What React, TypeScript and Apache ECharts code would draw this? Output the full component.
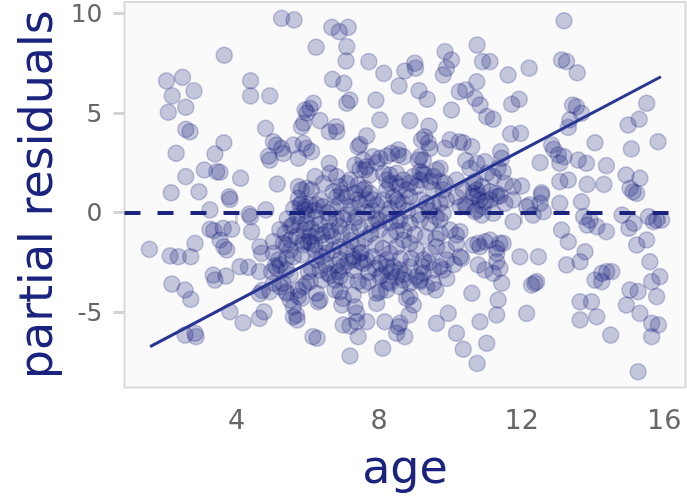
import React, { useEffect, useRef } from "react";
import * as echarts from "echarts";

// age, partial residual
const pointsLeft: [number, number][] = [
  [2.03, 6.61], [2.48, 6.79], [2.8, 6.11], [2.19, 5.86], [2.57, 5.29], [2.08, 5.04], [3.65, 7.9],
  [4.39, 6.62], [4.39, 5.86], [4.93, 5.86], [2.57, 4.18], [2.69, 4.06], [4.81, 4.23], [2.3, 2.98],
  [3.64, 3.51], [3.39, 2.95], [3.09, 2.14], [3.44, 2.06], [3.53, 2.03], [4.11, 1.73], [2.57, 1.81],
  [2.16, 1.0], [2.94, 1.05], [3.79, 0.8], [3.81, 0.67], [3.25, 0.14], [4.82, 0.14], [4.35, -0.07],
  [1.55, -1.84], [2.13, -2.17], [2.36, -2.21], [2.71, -2.21], [2.83, -1.54], [3.25, -0.83], [3.36, -0.9],
  [3.62, -0.78], [3.86, -0.83], [3.53, -1.37], [3.64, -1.71], [3.72, -1.87], [4.42, -0.95], [4.65, -1.71],
  [4.7, -2.04], [5.03, -1.45], [4.33, -2.74], [4.64, -2.96], [5.08, -2.67], [4.09, -2.71], [2.18, -3.58],
  [2.55, -3.88], [2.71, -4.35], [3.34, -3.13], [3.39, -3.38], [3.7, -3.18], [4.64, -4.07], [4.93, -3.96],
  [3.81, -4.97], [4.18, -5.52], [4.64, -5.3], [4.77, -4.97], [2.55, -6.14], [2.83, -6.05], [2.86, -6.22],
  [4.72, -3.9], [5.03, -3.54],
];

const pointsMidUpper: [number, number][] = [
  [5.26, 9.75], [5.61, 9.67], [6.23, 8.3], [6.67, 9.3], [6.88, 9.08], [7.13, 9.3], [7.09, 8.33],
  [7.07, 7.61], [7.71, 7.58], [8.13, 6.99], [8.56, 6.36], [8.72, 7.11], [9.0, 7.5], [9.02, 7.25],
  [6.69, 6.69], [7.01, 6.49], [7.09, 5.49], [7.18, 5.65], [7.91, 5.65], [8.02, 4.65], [8.86, 4.62],
  [9.12, 6.12], [9.35, 5.69], [9.85, 8.08], [10.03, 7.66], [9.89, 7.25], [9.8, 6.91], [10.75, 8.41],
  [10.9, 7.58], [10.25, 6.07], [10.43, 6.16], [10.74, 6.57], [10.69, 5.74], [10.83, 5.4], [10.03, 5.15],
  [11.02, 4.82], [5.92, 5.15], [5.97, 5.0], [6.15, 5.49], [6.06, 5.24], [5.82, 4.31], [5.88, 4.5],
  [6.34, 4.62], [6.6, 4.06], [6.79, 4.31], [6.81, 4.06], [7.65, 3.85], [7.41, 3.31], [7.46, 3.42],
  [5.03, 3.56], [5.12, 3.39], [5.26, 3.23], [4.89, 2.83], [4.93, 2.64], [5.31, 2.97], [5.59, 3.39],
  [5.87, 3.48], [5.96, 3.23], [6.1, 3.06], [5.73, 2.73], [9.28, 3.81], [9.4, 4.35], [9.38, 3.51],
  [9.19, 3.65], [9.42, 3.23], [9.85, 3.23], [9.99, 3.65], [10.25, 3.56], [10.36, 3.51], [10.6, 3.31],
  [10.43, 2.61], [10.74, 2.48], [10.97, 2.56], [10.55, 2.23],
  [6.6, 2.48], [6.62, 1.98], [6.81, 1.81], [7.32, 2.39], [7.55, 2.64], [7.83, 2.81], [7.93, 2.51],
  [8.54, 2.9], [8.68, 2.81], [9.1, 2.64], [9.71, 2.23], [9.52, 1.81], [9.71, 1.56], [9.15, 2.06],
  [9.28, 1.89], [8.12, 1.98], [8.3, 1.89], [8.49, 1.98], [7.6, 2.14], [7.74, 1.89], [7.18, 1.64],
  [7.41, 1.39], [7.6, 1.22], [10.69, 1.56], [10.9, 1.31], [10.64, 0.97], [10.17, 1.64], [6.71, 1.05],
  [6.95, 0.97], [7.46, 2.17], [7.65, 2.31], [8.02, 2.73], [8.21, 2.84], [8.35, 2.98], [8.54, 3.15],
  [6.9, 1.31], [7.09, 1.47], [5.14, 1.44], [5.73, 1.31], [5.82, 1.14], [5.96, 1.22], [6.1, 1.14],
  [6.2, 1.81], [6.43, 1.47],
];

const pointsMidZero: [number, number][] = [
  [5.73, 0.72], [5.78, 0.39], [5.92, 0.3], [6.06, 0.39], [6.34, 0.64], [6.24, 0.39], [6.43, 0.3],
  [5.82, 0.47], [5.92, 0.14], [6.81, 0.8], [6.9, 0.47], [7.09, 0.8], [7.32, 0.97], [7.37, 0.64],
  [7.46, 0.47], [7.55, 1.14], [7.74, 0.97], [7.65, 0.64], [7.83, 0.64], [7.93, 0.39], [8.21, 1.64],
  [8.49, 1.47], [8.21, 1.14], [8.12, 0.64], [8.4, 0.8], [8.54, 0.47], [9.61, 2.14], [9.85, 1.47],
  [9.43, 1.56], [9.52, 1.14], [9.24, 1.98], [9.15, 1.64], [8.96, 1.81], [9.05, 1.31], [8.86, 1.47],
  [8.68, 1.64], [8.58, 1.31], [8.77, 1.14], [8.3, 1.47], [9.15, 2.81], [9.24, 2.64], [8.86, 0.8],
  [9.15, 0.64], [9.33, 0.47], [8.68, 0.47], [8.49, 0.64], [9.8, 1.14], [9.89, 0.64], [9.71, 0.47],
  [9.52, 0.39], [10.36, 1.14], [10.17, 0.8], [10.41, 0.39], [10.27, 0.3], [10.64, 1.47], [10.74, 1.14],
  [10.64, 0.8], [10.83, 0.64], [10.46, 0.3], [10.78, 0.89], [10.97, 0.55], [10.92, 0.3], [10.74, 0.14],
  [5.42, -0.31], [5.7, -0.18], [5.97, -0.1], [6.22, -0.23], [6.55, -0.01], [6.8, -0.3], [7.11, -0.09],
  [7.36, -0.22], [7.66, 0.02], [7.92, -0.3], [8.23, -0.08], [8.5, -0.4], [5.21, -0.85], [5.52, -0.68],
  [5.77, -0.6], [6.08, -0.8], [6.33, -0.58], [6.63, -0.9], [6.88, -0.68], [7.19, -0.98], [7.45, -0.75],
  [7.76, -1.06], [8.01, -0.84], [8.31, -1.15], [8.48, -0.92], [5.96, -0.53], [5.59, -0.62], [5.36, -1.03],
  [5.31, -1.54], [5.5, -1.37], [5.68, -1.2], [5.87, -1.45], [6.06, -1.2], [6.24, -1.03], [6.39, -1.12],
  [6.53, -0.95], [5.87, -1.6], [6.01, -1.46], [6.1, -1.54], [5.4, -1.62], [8.58, -0.37], [8.86, -0.53],
  [9.15, -0.37], [9.43, -0.53], [9.71, -1.03], [9.99, -0.87], [9.71, -0.37], [9.8, -0.03], [10.17, -1.12],
  [10.27, -0.95], [10.69, 0.05], [10.88, -0.12], [11.2, -0.03], [4.39, -0.2], [5.6, 0.2],
  [5.9, -0.9], [6.2, -1.6], [6.5, -1.5], [6.7, -1.2], [6.95, -1.1], [7.2, -1.4], [7.4, -1.6],
  [7.6, -1.3], [7.9, -1.6], [8.1, -1.8], [8.3, -0.5], [8.0, -0.4], [7.8, -0.6], [7.3, -0.5],
  [7.0, -0.3], [6.6, -0.4], [6.2, 0.1], [6.7, 0.2], [7.2, 0.3], [7.8, 0.1], [8.3, 0.2], [8.8, 0.1],
  [9.1, -0.1], [9.4, 0.1], [9.6, -0.2], [9.3, -1.2], [9.0, -1.1], [8.7, -0.9], [9.6, -1.3],
];

const pointsMidLower: [number, number][] = [
  [6.9, -1.71], [7.09, -1.87], [7.27, -2.21], [7.46, -2.04], [7.65, -2.37], [7.83, -2.21], [8.02, -2.54],
  [8.21, -2.37], [8.4, -2.71], [8.49, -3.21], [5.5, -1.87], [5.59, -2.21], [5.4, -2.29], [5.82, -2.12],
  [5.12, -2.79], [4.98, -2.96], [5.22, -2.62], [6.01, -2.96], [6.1, -2.79], [6.34, -2.87], [6.62, -3.13],
  [6.85, -2.96], [6.76, -3.38], [6.9, -3.21], [7.55, -3.63], [7.69, -3.46], [8.02, -3.96], [8.21, -3.88],
  [8.25, -3.46], [8.07, -3.13], [8.35, -2.96], [8.21, -2.71], [6.81, -2.62], [6.9, -2.37], [7.13, -2.46],
  [7.27, -2.37], [7.46, -2.46], [7.55, -2.54], [6.24, -2.37], [6.39, -2.21], [6.53, -2.04], [6.71, -1.87],
  [5.03, -2.04], [5.17, -2.37], [5.4, -2.87], [5.5, -3.13], [5.22, -3.71], [5.39, -3.96], [5.73, -4.21],
  [5.96, -3.54], [5.82, -4.3], [5.59, -4.72], [5.73, -3.88], [6.39, -3.38], [6.06, -3.46], [5.87, -3.71],
  [5.31, -3.54], [5.4, -4.04], [5.5, -4.38], [5.59, -5.22], [5.68, -5.13], [5.7, -5.38], [6.14, -6.22],
  [6.26, -6.3], [6.99, -5.63], [7.18, -5.68], [7.37, -5.47], [7.65, -5.47], [7.41, -6.22], [8.16, -5.47],
  [8.54, -5.72], [8.72, -6.22], [8.49, -6.05], [8.84, -5.13], [8.96, -4.63], [8.77, -4.3], [7.93, -4.55],
  [7.93, -4.04], [7.37, -5.05], [7.32, -4.72], [6.95, -4.63], [6.9, -3.96], [6.99, -4.3], [6.29, -4.47],
  [6.24, -4.04], [6.34, -4.38], [7.41, -3.46], [7.09, -3.38], [6.76, -3.88], [7.27, -4.13], [6.57, -3.04],
  [8.3, -3.54], [8.58, -3.71], [8.02, -3.21], [8.1, -6.8], [7.18, -7.19], [8.86, -4.21], [8.58, -5.55],
  [10.17, -1.54], [10.27, -2.21], [9.89, -1.87], [9.61, -1.71], [9.43, -2.04], [9.24, -2.37], [9.05, -1.87],
  [8.86, -1.54], [8.68, -1.37], [8.49, -1.71], [8.3, -2.04], [8.58, -2.87], [8.86, -2.71], [9.05, -3.21],
  [9.24, -3.04], [9.52, -2.87], [9.71, -2.71], [9.89, -2.37], [9.52, -3.54], [9.15, -3.38], [8.86, -3.54],
  [8.68, -3.38], [9.59, -3.88], [9.33, -3.71], [9.15, -3.46],
  [8.9, -2.3], [9.2, -2.7], [8.6, -2.3], [7.9, -2.8], [7.3, -2.9], [7.0, -2.7], [6.5, -2.6],
  [6.2, -1.9], [7.7, -3.0], [7.5, -2.0], [8.7, -3.1], [9.9, -3.3], [10.1, -2.6], [9.4, -2.5],
];

const pointsRight: [number, number][] = [
  [10.6, -4.04], [9.94, -5.05], [9.61, -5.55], [10.17, -6.05], [10.36, -6.85], [10.75, -7.56],
  [10.83, -5.47], [11.02, -6.55], [10.78, -2.62], [10.97, -2.87], [10.32, -2.29], [9.8, -2.87],
  [10.83, -1.71], [10.64, -1.62], [10.78, -1.54], [10.97, -1.46], [11.39, -1.54], [11.76, -0.45],
  [12.32, -0.12], [11.95, -2.21], [12.47, -2.21], [11.3, -2.04], [11.3, -2.46], [11.39, -2.79],
  [11.2, -3.04], [11.44, -3.54], [11.34, -4.38], [11.3, -5.13], [12.14, -5.05], [12.28, -3.63],
  [12.37, -3.54], [12.42, -3.46], [11.11, -1.37], [11.3, -1.79], [11.48, -1.54],
  [11.3, 0.8], [11.53, 0.47], [12.56, 0.89], [13.07, 0.47], [13.68, 0.55], [12.14, 0.3], [13.12, -0.87],
  [13.31, -1.46], [13.74, -0.2], [13.84, -0.62], [14.11, -0.7], [14.38, -0.95], [13.92, -0.37],
  [14.82, -0.12], [15.01, -0.78], [15.15, -0.53], [15.56, -0.2], [15.7, -0.45], [15.79, -0.37],
  [15.93, -0.37], [15.51, -1.37], [15.23, -1.62], [15.6, -2.46], [15.88, -3.21], [15.65, -3.46],
  [15.79, -4.21], [15.04, -3.88], [15.27, -3.96], [14.94, -4.63], [15.32, -5.05], [15.65, -5.55],
  [15.84, -5.63], [15.65, -6.22], [15.27, -7.98], [14.5, -6.14], [13.64, -4.47], [13.96, -4.47],
  [13.64, -5.38], [14.11, -5.22], [14.25, -3.04], [14.39, -2.96], [14.53, -2.96], [14.06, -3.38],
  [14.25, -3.46], [13.78, -1.96], [13.64, -2.46], [13.26, -2.62],
  [13.19, 9.63], [11.11, 7.58], [12.21, 7.25], [11.62, 6.91], [13.12, 7.66], [13.26, 7.58], [13.56, 7.02],
  [11.72, 5.44], [11.93, 5.69], [11.2, 4.69], [13.43, 5.4], [13.54, 5.32], [13.68, 4.99], [13.35, 4.65],
  [13.31, 4.28], [15.51, 5.49], [15.3, 4.69], [14.99, 4.4], [11.69, 3.95], [11.97, 3.98], [14.06, 3.51],
  [15.83, 3.56], [15.08, 3.2], [12.84, 3.4], [12.9, 3.18], [13.03, 2.9], [13.19, 2.81], [13.07, 2.48],
  [12.52, 2.51], [11.41, 3.06], [11.44, 2.73], [11.34, 2.23], [11.48, 2.06], [11.2, 1.81], [11.53, 1.47],
  [13.59, 2.64], [13.82, 2.48], [14.38, 2.36], [13.07, 1.56], [13.31, 1.64], [13.84, 1.42], [14.31, 1.42],
  [14.93, 1.89], [15.32, 1.73], [15.04, 1.22], [15.13, 1.05], [15.23, 0.97], [12.0, 1.34], [12.56, 1.0],
  [11.11, 1.05], [11.39, 0.84], [11.76, 1.31], [11.02, 1.98], [11.3, 0.97], [11.11, 0.64], [11.76, 0.64],
  [12.23, 0.39], [12.52, 0.47], [12.61, 0.05],
];

const fitAge = [1.57, 15.91];
const fitResid = [-6.72, 6.82];

const xTicks = [4, 8, 12, 16];
const yTicks = [-5, 0, 5, 10];

const FONT = "DejaVu Sans";
const NAVY = "#1a237e";

export default function App() {
  const ref = useRef<HTMLDivElement>(null);
  useEffect(() => {
    if (!ref.current) return;
    const chart = echarts.init(ref.current, undefined, { renderer: "svg" });
    const points = [...pointsLeft, ...pointsMidUpper, ...pointsMidZero, ...pointsMidLower, ...pointsRight];
    chart.setOption({
      animation: false,
      grid: {
        left: 124.5,
        right: 1.5,
        top: 2,
        bottom: 108.5,
        show: true,
        backgroundColor: "#fafafa",
        borderColor: "#d9d9d9",
        borderWidth: 2,
      },
      xAxis: {
        type: "value",
        min: 0.85,
        max: 16.6,
        name: "age",
        nameLocation: "middle",
        nameGap: 56,
        nameTextStyle: { fontSize: 46, color: NAVY, fontFamily: FONT },
        axisLine: { show: false },
        splitLine: { show: false },
        axisTick: { show: true, customValues: xTicks, length: 11, lineStyle: { color: "#d3d3d3", width: 3 } },
        axisLabel: { customValues: xTicks, margin: 18, color: "#666666", fontSize: 27, fontFamily: FONT },
      },
      yAxis: {
        type: "value",
        min: -8.77,
        max: 10.57,
        name: "partial residuals",
        nameLocation: "middle",
        nameGap: 66,
        nameRotate: 90,
        nameTextStyle: { fontSize: 46, color: NAVY, fontFamily: FONT },
        axisLine: { show: false },
        splitLine: { show: false },
        axisTick: { show: true, customValues: yTicks, length: 11, lineStyle: { color: "#d3d3d3", width: 3 } },
        axisLabel: {
          customValues: yTicks,
          margin: 22,
          color: "#666666",
          fontSize: 25,
          lineHeight: 20,
          fontFamily: FONT,
        },
      },
      series: [
        {
          type: "scatter",
          data: points,
          symbolSize: 16,
          itemStyle: {
            color: "rgba(26,35,126,0.3)",
            borderColor: "rgba(26,35,126,0.3)",
            borderWidth: 1.5,
          },
          z: 2,
          markLine: {
            silent: true,
            symbol: ["none", "none"],
            label: { show: false },
            lineStyle: { type: [16, 17], width: 4, color: NAVY },
            data: [{ yAxis: 0 }],
          },
        },
        {
          type: "line",
          data: fitAge.map((a, i) => [a, fitResid[i]]),
          showSymbol: false,
          z: 6,
          lineStyle: { width: 3, color: "#283593" },
        },
      ],
    });
    return () => chart.dispose();
  }, []);
  return <div ref={ref} style={{ position: "fixed", left: 0, top: 0, width: 687, height: 496 }} />;
}
